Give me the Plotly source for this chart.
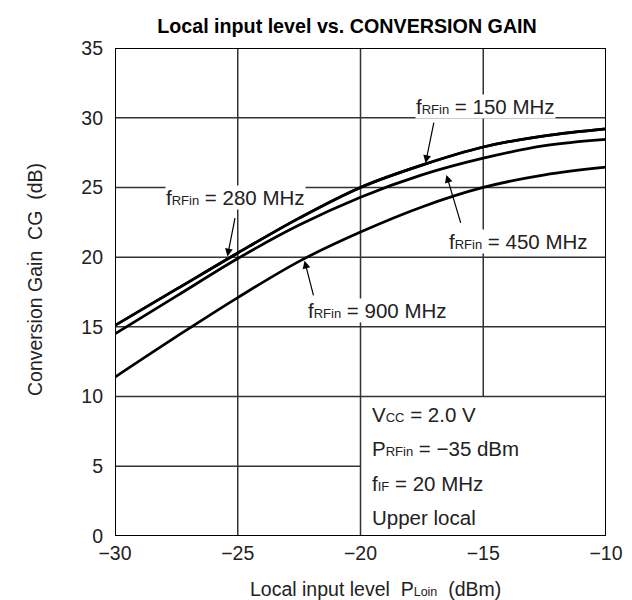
import plotly.graph_objects as go

# ---- data ----
x_dbm = [-30, -27.5, -25, -22.5, -20, -17.5, -15, -12.5, -10]
cg_150 = [15.1, 17.7, 20.3, 22.8, 25.0, 26.6, 27.9, 28.7, 29.2]
cg_280 = [15.1, 17.7, 20.3, 22.8, 25.0, 26.6, 27.9, 28.7, 29.2]
cg_450 = [14.5, 17.2, 19.9, 22.3, 24.3, 25.9, 27.1, 28.0, 28.45]
cg_900 = [11.4, 14.3, 17.1, 19.7, 21.8, 23.6, 25.0, 25.9, 26.45]

x_ticks = [-30, -25, -20, -15, -10]
x_tick_text = ["\u221230", "\u221225", "\u221220", "\u221215", "\u221210"]
y_ticks = [0, 5, 10, 15, 20, 25, 30, 35]
y_tick_text = ["0", "5", "10", "15", "20", "25", "30", "35"]

series_names = ["150 MHz", "280 MHz", "450 MHz", "900 MHz"]

FONT = "Liberation Sans, Arial, sans-serif"
TXT = "#222"
FS_TICK = 19.5
FS_LBL = 20.5
FS_TTL = 19.5


def small(s, size=13):
    # small baseline-aligned subscript text as in the reference
    return f"<span style='font-size:{size}px'>{s}</span>"


fig = go.Figure()
for name, ys in zip(series_names, [cg_150, cg_280, cg_450, cg_900]):
    fig.add_trace(go.Scatter(x=x_dbm, y=ys, mode="lines", name=name,
                             line=dict(color="black", width=2.7, shape="spline"),
                             showlegend=False, hoverinfo="skip"))

# partial grid (lower-right area is a condition box)
grid_color = "#333"
shapes = []
for xv, y0, y1 in [(-25, 0, 35), (-20, 0, 35), (-15, 10, 35)]:
    shapes.append(dict(type="line", xref="x", yref="y", x0=xv, x1=xv, y0=y0, y1=y1,
                       line=dict(color=grid_color, width=1.5), layer="below"))
for yv, x0, x1 in [(5, -30, -20), (10, -30, -10), (15, -30, -10), (20, -30, -10),
                   (25, -30, -10), (30, -30, -10)]:
    shapes.append(dict(type="line", xref="x", yref="y", x0=x0, x1=x1, y0=yv, y1=yv,
                       line=dict(color=grid_color, width=1.5), layer="below"))
shapes.append(dict(type="rect", xref="x", yref="y", x0=-30, x1=-10, y0=0, y1=35,
                   line=dict(color="black", width=2), layer="above"))

annotations = []
# labels with white background
labels = [
    ("f" + small("RFin") + " = 150 MHz", -14.9, 30.8),
    ("f" + small("RFin") + " = 280 MHz", -25.1, 24.3),
    ("f" + small("RFin") + " = 450 MHz", -13.55, 21.1),
    ("f" + small("RFin") + " = 900 MHz", -19.3, 16.2),
]
for t, xv, yv in labels:
    annotations.append(dict(text=t, x=xv, y=yv, xref="x", yref="y", showarrow=False,
                            xanchor="center", yanchor="middle",
                            font=dict(family=FONT, size=FS_LBL, color=TXT),
                            bgcolor="white", borderpad=0))
# arrows (tail -> tip)
arrows = [
    (-17.0, 29.75, -17.35, 26.75),
    (-25.1, 22.9, -25.42, 20.05),
    (-15.9, 22.35, -16.5, 25.9),
    (-21.9, 17.15, -22.28, 19.75),
]
for ax_, ay_, xt, yt in arrows:
    annotations.append(dict(text="", x=xt, y=yt, ax=ax_, ay=ay_, xref="x", yref="y",
                            axref="x", ayref="y", showarrow=True, arrowhead=2,
                            arrowsize=1.3, arrowwidth=1.2, arrowcolor="black",
                            standoff=0, startstandoff=0))
# condition box text
conds = [
    ("V" + small("CC") + " = 2.0 V", 8.75),
    ("P" + small("RFin") + " = \u221235 dBm", 6.3),
    ("f" + small("IF") + " = 20 MHz", 3.8),
    ("Upper local", 1.35),
]
for t, yv in conds:
    annotations.append(dict(text=t, x=-19.6, y=yv, xref="x", yref="y",
                            xanchor="left", yanchor="middle",
                            showarrow=False, font=dict(family=FONT, size=FS_LBL, color=TXT)))

L, R, T, B = 107, 34, 40, 72
W, H = 632, 600
pw, ph = W - L - R, H - T - B

# axis titles placed by pixel centre
annotations.append(dict(text="Local input level\u00a0\u00a0P" + small("Loin", 12.5) + "\u00a0\u00a0(dBm)",
                        x=(367 - L) / pw, y=(H - B - 581) / ph, xref="paper", yref="paper",
                        xanchor="center", yanchor="middle",
                        showarrow=False, font=dict(family=FONT, size=FS_TTL, color=TXT)))
annotations.append(dict(text="Conversion Gain\u00a0\u00a0CG\u00a0\u00a0(dB)",
                        x=(27 - L) / pw, y=(H - B - 272) / ph, xref="paper", yref="paper",
                        xanchor="center", yanchor="middle",
                        textangle=-90, showarrow=False,
                        font=dict(family=FONT, size=FS_TTL, color=TXT)))

fig.update_layout(
    width=W, height=H,
    margin=dict(l=L, r=R, t=T, b=B, pad=0),
    paper_bgcolor="white", plot_bgcolor="white",
    title=dict(text="<b>Local input level vs. CONVERSION GAIN</b>",
               x=339 / W, xref="container", xanchor="center",
               y=1 - 18 / H, yref="container", yanchor="middle",
               font=dict(family=FONT, size=19.7, color="black")),
    xaxis=dict(range=[-30, -10], tickvals=x_ticks, ticktext=x_tick_text,
               showgrid=False, zeroline=False, showline=False, ticks="",
               ticklabelstandoff=3,
               tickfont=dict(family=FONT, size=FS_TICK, color=TXT)),
    yaxis=dict(range=[0, 35], tickvals=y_ticks, ticktext=y_tick_text,
               showgrid=False, zeroline=False, showline=False, ticks="",
               ticklabelstandoff=11,
               tickfont=dict(family=FONT, size=FS_TICK, color=TXT)),
    shapes=shapes,
    annotations=annotations,
)

fig.write_html("out.html")
